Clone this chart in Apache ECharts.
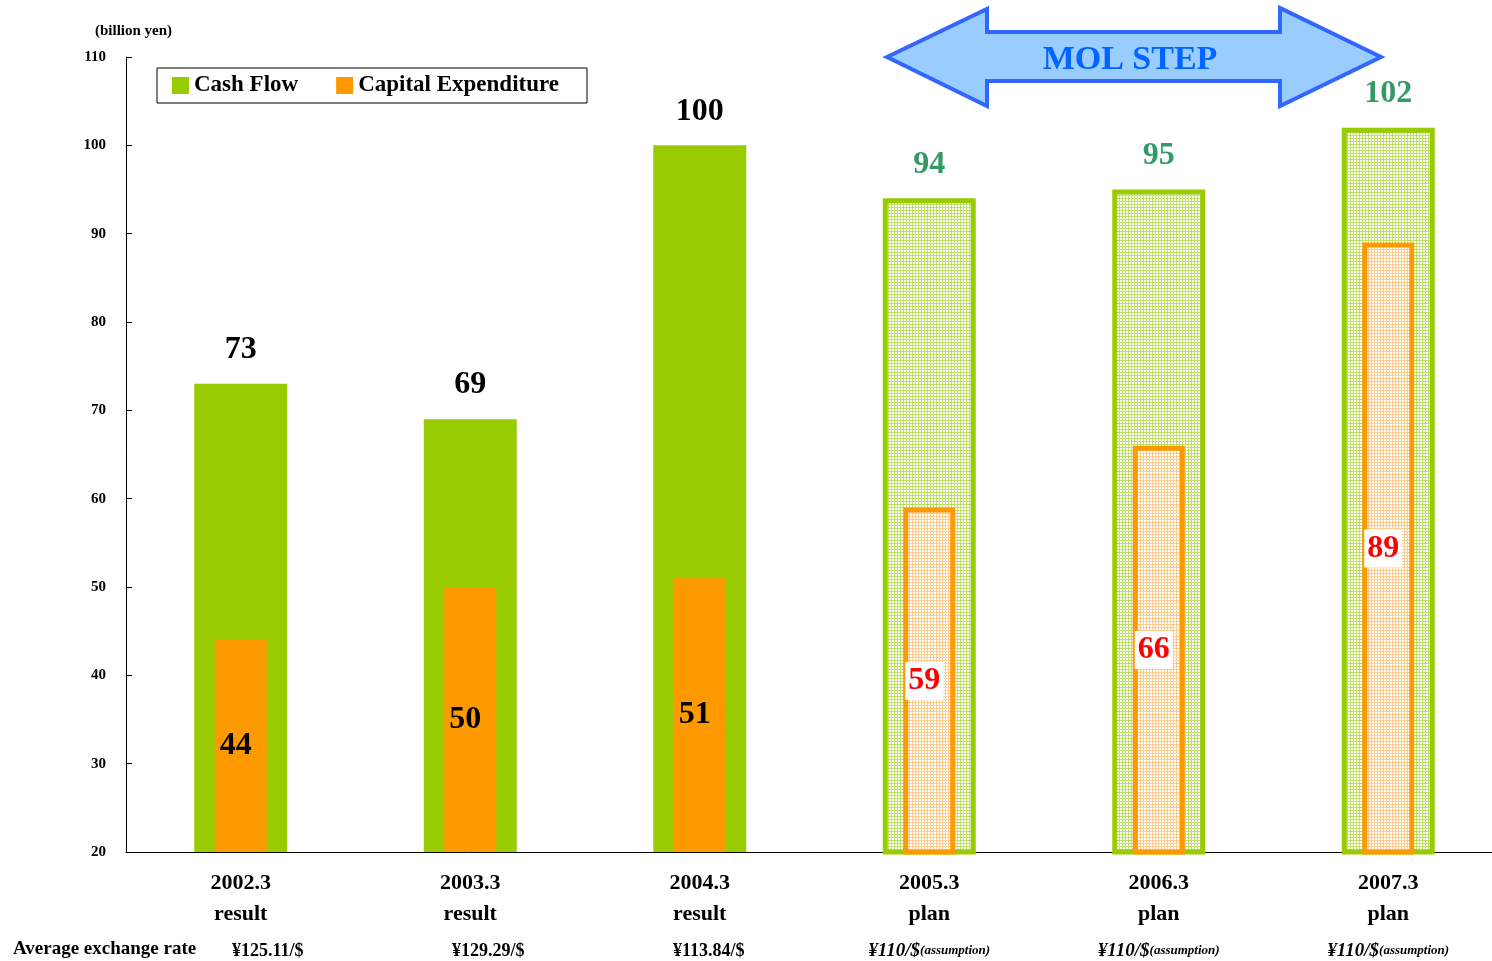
<!DOCTYPE html>
<html>
<head>
<meta charset="utf-8">
<script src="https://cdn.jsdelivr.net/npm/echarts@6/dist/echarts.min.js"></script>
<style>
    html, body { margin: 0; padding: 0; background: #fff; }
    #main { width: 1492px; height: 961px; }
</style>
</head>
<body>
<div id="main"></div>
<script>
    // data
    var years = ['2002.3', '2003.3', '2004.3', '2005.3', '2006.3', '2007.3'];
    var kinds = ['result', 'result', 'result', 'plan', 'plan', 'plan'];
    var rates = ['¥125.11/$', '¥129.29/$', '¥113.84/$', '¥110/$', '¥110/$', '¥110/$'];
    var cashFlow = [73, 69, 100, 94, 95, 102];
    var capex = [44, 50, 51, 59, 66, 89];
    var yTicks = [20, 30, 40, 50, 60, 70, 80, 90, 100, 110];

    var GREEN = '#99cc00', ORANGE = '#ff9900';
    var SERIF = '"Liberation Serif", "Times New Roman", serif';

    // dotted fill used for the plan bars
    function makePattern(col) {
        var c = document.createElement('canvas');
        c.width = 3; c.height = 3;
        var ctx = c.getContext('2d');
        ctx.fillStyle = '#ffffff';
        ctx.fillRect(0, 0, 3, 3);
        ctx.fillStyle = col;
        ctx.fillRect(0, 0, 1, 3);
        ctx.fillRect(0, 0, 3, 1);
        return c;
    }
    var greenPat = { image: makePattern('#bfe266'), repeat: 'repeat' };
    var orangePat = { image: makePattern('#ffcc8c'), repeat: 'repeat' };

    var cfData = [], cxData = [];
    cashFlow.forEach(function (v, i) {
        var plan = kinds[i] === 'plan';
        cfData.push({
            value: v,
            itemStyle: plan ? { color: greenPat, borderColor: GREEN, borderWidth: 5 } : { color: GREEN },
            label: { color: plan ? '#339966' : '#000' }
        });
    });
    capex.forEach(function (v, i) {
        var plan = kinds[i] === 'plan';
        cxData.push({
            value: v,
            itemStyle: plan ? { color: orangePat, borderColor: ORANGE, borderWidth: 5 } : { color: ORANGE },
            label: plan ? { color: '#ff0000', backgroundColor: '#fff', padding: [4, 3, 2, 3] } : { color: '#000' }
        });
    });

    var chart = echarts.init(document.getElementById('main'));

    var rateStyle = { fontFamily: SERIF, fontWeight: 'bold', fontSize: 18, color: '#000', lineHeight: 42 };

    var option = {
        backgroundColor: '#fff',
        animation: false,
        textStyle: { fontFamily: SERIF },
        grid: { left: 126, top: 57, bottom: 109, width: 1377, outerBoundsMode: 'none', containLabel: false },
        legend: {
            left: 157, top: 68,
            padding: [6, 28, 6, 15],
            borderColor: '#000', borderWidth: 1,
            itemWidth: 17, itemHeight: 17, itemGap: 38,
            icon: 'rect',
            textStyle: { fontFamily: SERIF, fontWeight: 'bold', fontSize: 23, color: '#000' },
            data: ['Cash Flow', 'Capital Expenditure']
        },
        xAxis: [{
            type: 'category',
            data: years,
            axisLine: { lineStyle: { color: '#000', width: 1 } },
            axisTick: { inside: true, length: 6, lineStyle: { color: '#000' } },
            axisLabel: {
                margin: 16,
                interval: 0,
                formatter: function (val, idx) {
                    var r = kinds[idx] === 'plan'
                        ? '{ri|' + rates[idx] + '}{rs|(assumption)}'
                        : '{r' + idx + '|' + rates[idx] + '}';
                    return '{y|' + val + '}\n{t|' + kinds[idx] + '}\n' + r;
                },
                rich: {
                    y: { fontFamily: SERIF, fontWeight: 'bold', fontSize: 22, color: '#000', lineHeight: 31 },
                    t: { fontFamily: SERIF, fontWeight: 'bold', fontSize: 22, color: '#000', lineHeight: 31 },
                    r0: Object.assign({}, rateStyle, { padding: [0, 0, 0, 54] }),
                    r1: Object.assign({}, rateStyle, { padding: [0, 0, 0, 36] }),
                    r2: Object.assign({}, rateStyle, { padding: [0, 0, 0, 18] }),
                    ri: { fontFamily: SERIF, fontWeight: 'bold', fontStyle: 'italic', fontSize: 19, color: '#000', lineHeight: 42 },
                    rs: { fontFamily: SERIF, fontWeight: 'bold', fontStyle: 'italic', fontSize: 13, color: '#000', lineHeight: 42 }
                }
            }
        }, {
            type: 'category',
            data: years,
            show: false
        }],
        yAxis: {
            type: 'value',
            min: yTicks[0],
            max: yTicks[yTicks.length - 1],
            interval: 10,
            axisLine: { show: true, lineStyle: { color: '#000', width: 1 } },
            axisTick: { show: true, inside: true, length: 6, lineStyle: { color: '#000' } },
            splitLine: { show: false },
            axisLabel: { margin: 20, fontFamily: SERIF, fontWeight: 'bold', fontSize: 15, color: '#000' }
        },
        series: [{
            name: 'Cash Flow',
            type: 'bar',
            xAxisIndex: 0,
            barWidth: 93,
            itemStyle: { color: GREEN },
            label: {
                show: true, position: 'top', distance: 18,
                fontFamily: SERIF, fontWeight: 'bold', fontSize: 32
            },
            data: cfData
        }, {
            name: 'Capital Expenditure',
            type: 'bar',
            xAxisIndex: 1,
            barWidth: 52,
            itemStyle: { color: ORANGE },
            label: {
                show: true, position: 'inside', offset: [-5, 0],
                fontFamily: SERIF, fontWeight: 'bold', fontSize: 32
            },
            data: cxData
        }],
        graphic: [{
            type: 'text', left: 95, top: 24,
            style: { text: '(billion yen)', font: 'bold 15px ' + SERIF, fill: '#000' }
        }, {
            type: 'text', left: 13, top: 940,
            style: { text: 'Average exchange rate', font: 'bold 19px ' + SERIF, fill: '#000' }
        }, {
            type: 'polygon',
            shape: {
                points: [[887, 57], [987, 9], [987, 32], [1280, 32], [1280, 8], [1381, 57],
                         [1280, 106], [1280, 81], [987, 81], [987, 106]]
            },
            style: { fill: '#99ccff', stroke: '#3366ff', lineWidth: 4 }
        }, {
            type: 'text', x: 1130, y: 60,
            style: {
                text: 'MOL STEP', font: 'bold 34px ' + SERIF, fill: '#0066ff',
                textAlign: 'center', textVerticalAlign: 'middle'
            }
        }]
    };

    chart.setOption(option);
</script>
</body>
</html>
